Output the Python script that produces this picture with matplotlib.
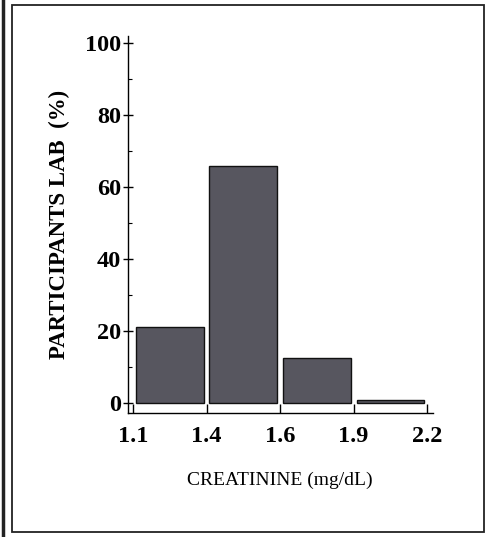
import numpy as np
import matplotlib.pyplot as plt
from matplotlib.lines import Line2D
from matplotlib.patches import Rectangle

# bins of creatinine (mg/dL) and share of participant labs (%)
bin_edges = ['1.1', '1.4', '1.6', '1.9', '2.2']
pct_labs = [21, 66, 12.5, 0.8]

fig = plt.figure(figsize=(4.9, 5.37), dpi=100)
fig.patch.set_facecolor('white')

# outer frame of the panel + edge of neighbouring panel
fig.add_artist(Rectangle((12/490, 1-532/537), (484-12)/490, (532-5)/537,
                         transform=fig.transFigure, fill=False, lw=1.3, ec='#222222'))
fig.add_artist(Line2D([3/490, 3/490], [0, 1], transform=fig.transFigure, lw=2.5, color='#222222'))

ax = fig.add_axes([127.5/490, 1-413/537, (433-127.5)/490, (413-36)/537])
x = np.arange(len(pct_labs)) + 0.5
ax.bar(x, pct_labs, width=0.92, color='#57565f', edgecolor='#111111', linewidth=1.0)

ax.set_xlim(-0.075, 4.08)
ax.set_ylim(-2.8, 102)
ax.spines['top'].set_visible(False)
ax.spines['right'].set_visible(False)
ax.spines['left'].set_linewidth(1.0)
ax.spines['bottom'].set_linewidth(1.0)

ax.set_xticks(np.arange(len(bin_edges)))
ax.set_xticklabels(bin_edges)
ax.set_yticks([0, 20, 40, 60, 80, 100])
ax.set_yticks([10, 30, 50, 70, 90], minor=True)
ax.tick_params(axis='x', direction='in', length=6.5, width=1.0, pad=9)
ax.tick_params(axis='y', which='major', direction='inout', length=7, width=1.0, pad=1)
ax.tick_params(axis='y', which='minor', direction='in', length=3, width=0.8)

for lab in ax.get_xticklabels() + ax.get_yticklabels():
    lab.set_fontfamily('Liberation Serif')
    lab.set_fontsize(17.5)
    lab.set_fontweight('bold')

ax.set_ylabel('PARTICIPANTS LAB  (%)', fontfamily='Liberation Serif', fontsize=16.5,
              fontweight='bold', labelpad=11)
ax.set_xlabel('CREATININE (mg/dL)', fontfamily='Liberation Serif', fontsize=14,
              labelpad=18)

fig.savefig('out.png', dpi=100)
